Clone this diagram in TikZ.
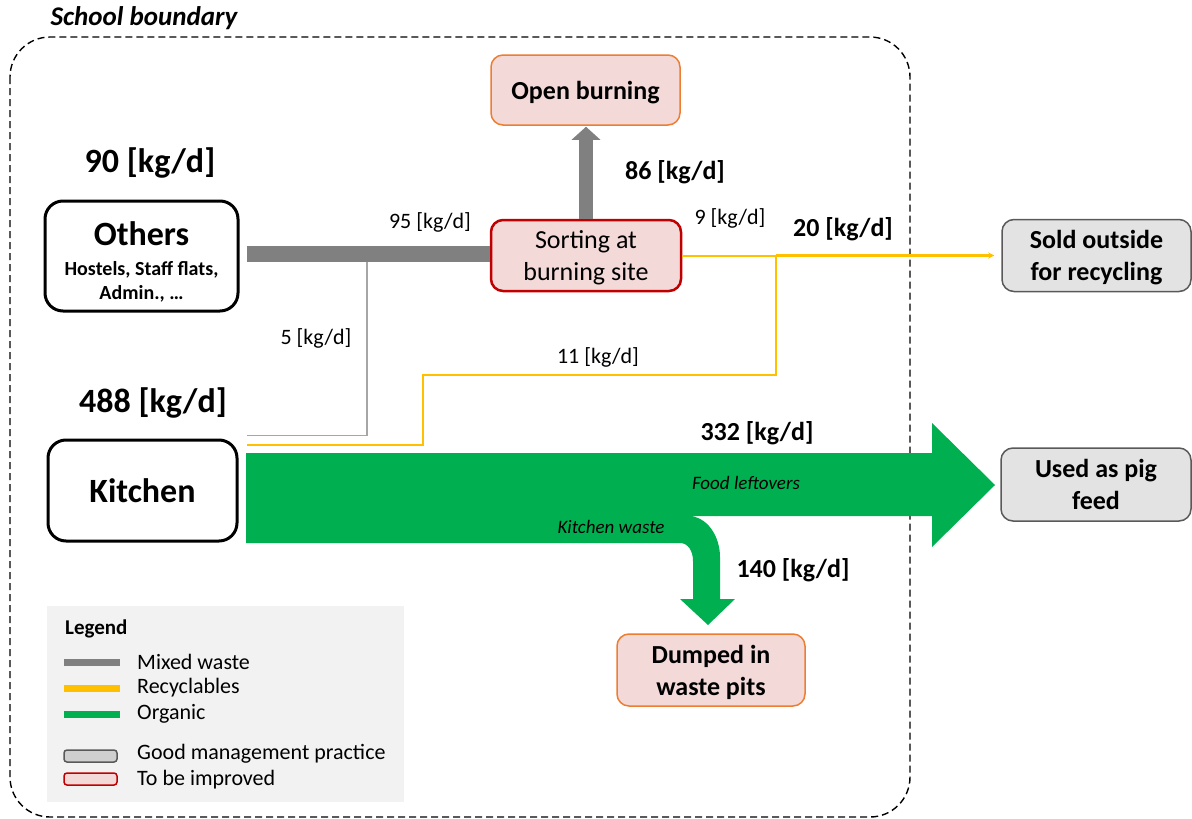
\documentclass[tikz,border=0pt]{standalone}
\usepackage{fontspec}
\setmainfont{Carlito}
\usetikzlibrary{arrows.meta,calc}
\definecolor{mixedc}{HTML}{808080}
\definecolor{thinc}{HTML}{A6A6A6}
\definecolor{recyc}{HTML}{FFC000}
\definecolor{orgc}{HTML}{00B050}
\definecolor{pinkc}{HTML}{F4D9D9}
\definecolor{redc}{HTML}{C00000}
\definecolor{orangec}{HTML}{ED7D31}
\definecolor{goodfill}{HTML}{E3E3E3}
\definecolor{goodline}{HTML}{595959}
\definecolor{legbg}{HTML}{F2F2F2}
\newcommand\myfs[2]{\fontsize{#1}{#2}\selectfont}
\begin{document}
\begin{tikzpicture}[x=1pt,y=-1pt,
  srcbox/.style={draw=black, line width=3pt, rounded corners=18pt, fill=white, align=center, inner sep=0pt},
  badbox/.style={draw=redc, line width=2.5pt, fill=pinkc, rounded corners=12pt, align=center, inner sep=0pt, text depth=0pt, font=\myfs{26}{32}},
  warnbox/.style={draw=orangec, line width=1.5pt, fill=pinkc, rounded corners=12pt, align=center, inner sep=0pt, text depth=0pt, font=\myfs{26}{32}\bfseries},
  goodbox/.style={draw=goodline, line width=1.5pt, fill=goodfill, rounded corners=12pt, align=center, inner sep=0pt, text depth=0pt, font=\myfs{26}{32}\bfseries},
  biglbl/.style={font=\myfs{34}{40}\bfseries},
  flowlbl/.style={font=\myfs{26}{30}\bfseries},
  smalllbl/.style={font=\myfs{22}{26}},
  itlbl/.style={font=\myfs{19}{22}\itshape},
  mixedflow/.style={draw=mixedc, line width=16pt},
  mixedthin/.style={draw=thinc, line width=1.5pt},
  recflow/.style={draw=recyc, line width=2pt},
  recthick/.style={draw=recyc, line width=3pt},
  legtext/.style={font=\myfs{22}{26}, anchor=west, inner sep=0pt},
  legline/.style={line width=7pt},
  legbox/.style={line width=1.5pt, rounded corners=3pt}
]
\useasboundingbox (0,0) rectangle (1192,819);

% school boundary
\draw[black, line width=1.4pt, dash pattern=on 7pt off 4pt, rounded corners=40pt] (10,37) rectangle (910,817);
\node[font=\myfs{27}{30}\bfseries\itshape] (sb) at (144,18) {School boundary};

% legend
\fill[legbg] (47,606) rectangle (404,802);
\node[font=\myfs{21}{26}\bfseries, anchor=west, inner sep=0pt] (leg) at (65,629) {Legend};
\draw[legline, mixedc] (64,662) -- (120,662);
\draw[legline, recyc] (64,688) -- (120,688);
\draw[legline, orgc] (64,714) -- (120,714);
\draw[legbox, draw=goodline, fill=goodfill!80!gray] (64,750) rectangle (117,762);
\draw[legbox, draw=redc, fill=pinkc] (64,773) rectangle (117,785);
\node[legtext] (l1) at (137,662) {Mixed waste};
\node[legtext] (l2) at (137,688) {Recyclables};
\node[legtext] (l3) at (137,714) {Organic};
\node[legtext] (l4) at (137,754) {Good management practice};
\node[legtext] (l5) at (137,780) {To be improved};

% nodes
\node[srcbox, font=\myfs{20}{23}\bfseries, minimum width=193pt, minimum height=110pt] (others) at (141.5,256)
  {\rule{0pt}{36pt}{\myfs{34}{38}\bfseries Others}\\[7pt]Hostels, Staff flats,\\[1pt]Admin., …};
\node[srcbox, minimum width=189pt, minimum height=101pt] (kitchen) at (142.5,490.5)
  {\myfs{34}{38}\bfseries Kitchen};
\node[badbox, minimum width=190pt, minimum height=71pt] (sorting) at (586,255.5) {Sorting at\\burning site};
\node[warnbox, minimum width=189pt, minimum height=70pt] (burning) at (585.5,90) {Open burning};
\node[warnbox, minimum width=188pt, minimum height=72pt] (dumped) at (711,670) {Dumped in\\waste pits};
\node[goodbox, minimum width=189pt, minimum height=72pt] (sold) at (1096.5,255.5) {Sold outside\\for recycling};
\node[goodbox, minimum width=190pt, minimum height=73pt] (pig) at (1096,484.5) {Used as pig\\feed};

% organic flows (sankey shape)
\fill[orgc] (246,453) -- (932,453) -- (932,423) -- (995,485) -- (932,547) -- (932,516)
  -- (688,516) .. controls (707,516) and (720,536) .. (720,557)
  -- (720,599) -- (735,599) -- (708,625) -- (680,599) -- (693,599) -- (693,561)
  .. controls (693,551) and (688,543) .. (680,543) -- (246,543) -- cycle;

% mixed waste
\coordinate (g1) at ([xshift=7pt,yshift=2pt]others.east);
\draw[mixedflow] (g1) -- (g1 -| sorting.west);
\coordinate (j1) at (367,262);
\draw[mixedthin] (j1) |- ([xshift=8pt,yshift=3pt]kitchen.north east);
\draw[draw=mixedc, line width=14pt, -{Triangle[length=13pt,width=28pt]}, shorten >=1pt]
  (sorting.north) -- (sorting.north |- burning.south);

% recyclables
\coordinate (y1) at ($(sorting.east)+(94,0)$);
\draw[recflow] (sorting.east) -- (y1);
\draw[recflow] ([xshift=8pt,yshift=-6pt]kitchen.north east) -| (423,375) -| (y1);
\draw[recthick, -{Stealth[length=6pt,width=6pt]}, shorten >=7pt] (y1) -- (y1 -| sold.west);

% labels
\node[biglbl] (q90) at (150,163) {90 [kg/d]};
\node[biglbl] (q488) at (153,403) {488 [kg/d]};
\node[smalllbl] (q95) at (430,222) {95 [kg/d]};
\node[smalllbl] (q5) at (316,338) {5 [kg/d]};
\node[smalllbl] (q9) at (730,218) {9 [kg/d]};
\node[smalllbl] (q11) at (598,357) {11 [kg/d]};
\node[flowlbl] (q86) at (675,172) {86 [kg/d]};
\node[flowlbl] (q20) at (843,229) {20 [kg/d]};
\node[flowlbl] (q332) at (757,433) {332 [kg/d]};
\node[flowlbl] (q140) at (793,570) {140 [kg/d]};
\node[itlbl] (fl) at (746,483) {Food leftovers};
\node[itlbl] (kw) at (611,527) {Kitchen waste};
\end{tikzpicture}
\end{document}
